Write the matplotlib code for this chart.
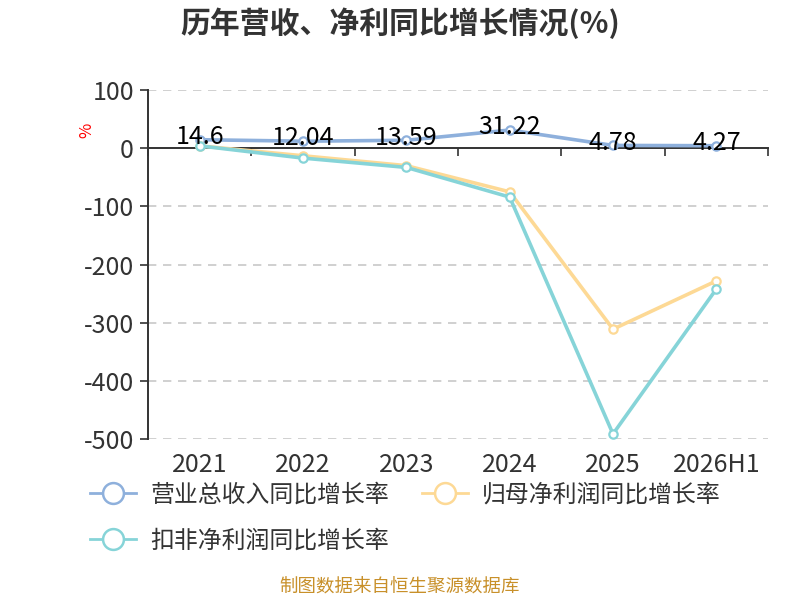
import matplotlib
matplotlib.use('Agg')
import matplotlib.pyplot as plt
import matplotlib.transforms as mtransforms
from matplotlib.lines import Line2D

plt.rcParams['font.family'] = ['Noto Sans CJK SC', 'DejaVu Sans']
plt.rcParams['axes.unicode_minus'] = False

# data
categories = ['2021', '2022', '2023', '2024', '2025', '2026H1']
revenue_growth = [14.6, 12.04, 13.59, 31.22, 4.78, 4.27]
net_profit_growth = [4, -13, -30, -75, -311, -228]
deducted_profit_growth = [4, -17, -33, -84, -491, -242]
series_names = ['营业总收入同比增长率', '归母净利润同比增长率', '扣非净利润同比增长率']
colors = ['#8eb0dc', '#fdd995', '#86d4d8']
y_ticks = [100, 0, -100, -200, -300, -400, -500]

fig = plt.figure(figsize=(8, 6), dpi=100)
ax = fig.add_axes([0.185, 0.268, 0.775, 0.582])

x = list(range(len(categories)))
all_series = [revenue_growth, net_profit_growth, deducted_profit_growth]
# draw in order so the cyan line sits on top of the yellow one
for vals, c in zip(all_series, colors):
    ax.plot(x, vals, color=c, lw=2.6, marker='o', ms=6,
            mfc='white', mec=c, mew=1.6, zorder=3)

# value labels for revenue growth
for xi, v in zip(x, revenue_growth):
    ax.annotate(f'{v:g}', (xi, v), xytext=(0, 2), textcoords='offset points',
                ha='center', va='center', fontsize=18, color='black', zorder=5)

ax.set_xlim(-0.5, len(categories) - 0.5)
ax.set_ylim(-500, 100)
ax.set_yticks(y_ticks)
ax.set_yticklabels([str(t) for t in y_ticks], fontsize=18, color='#333333')
ax.tick_params(axis='y', length=6, width=1.2, color='#333333', pad=4)

for t in y_ticks:
    if t != 0:
        ax.axhline(t, color='#c8c8c8', lw=1.2, ls=(0, (5, 4)), zorder=1)

# x axis on the zero line, ticks at category boundaries
ax.spines['bottom'].set_position(('data', 0))
ax.spines['bottom'].set_color('#333333')
ax.spines['bottom'].set_linewidth(1.4)
ax.spines['left'].set_color('#333333')
ax.spines['left'].set_linewidth(1.4)
ax.spines['top'].set_visible(False)
ax.spines['right'].set_visible(False)
ax.set_xticks([i - 0.5 for i in range(len(categories) + 1)])
ax.set_xticklabels([])
ax.tick_params(axis='x', length=6, width=1.2, color='#333333', direction='out')

trans = mtransforms.blended_transform_factory(ax.transData, ax.transAxes)
for xi, lab in zip(x, categories):
    ax.text(xi, -0.075, lab, transform=trans, ha='center', va='center',
            fontsize=18, color='#333333')

fig.text(0.108, 0.783, '%', color='red', fontsize=12, rotation=90,
         ha='center', va='center')

fig.text(0.5, 0.962, '历年营收、净利同比增长情况(%)', ha='center', va='center',
         fontsize=21.5, fontweight='bold', color='#333333')

handles = [Line2D([0], [0], color=c, lw=2, marker='o', ms=15, mfc='white',
                  mec=c, mew=1.8) for c in colors]
# column-major fill: order so rows read A B / C
order = [0, 2, 1]
fig.legend([handles[i] for i in order], [series_names[i] for i in order],
           ncol=2, loc='upper left',
           bbox_to_anchor=(0.086, 0.23), frameon=False, fontsize=17.2,
           handlelength=1.9, handletextpad=0.6, columnspacing=1.4,
           labelspacing=0.95, labelcolor='#333333')

fig.text(0.5, 0.02, '制图数据来自恒生聚源数据库', ha='center', va='center',
         fontsize=13.3, color='#c8902a')

fig.savefig('out.png', dpi=100)
